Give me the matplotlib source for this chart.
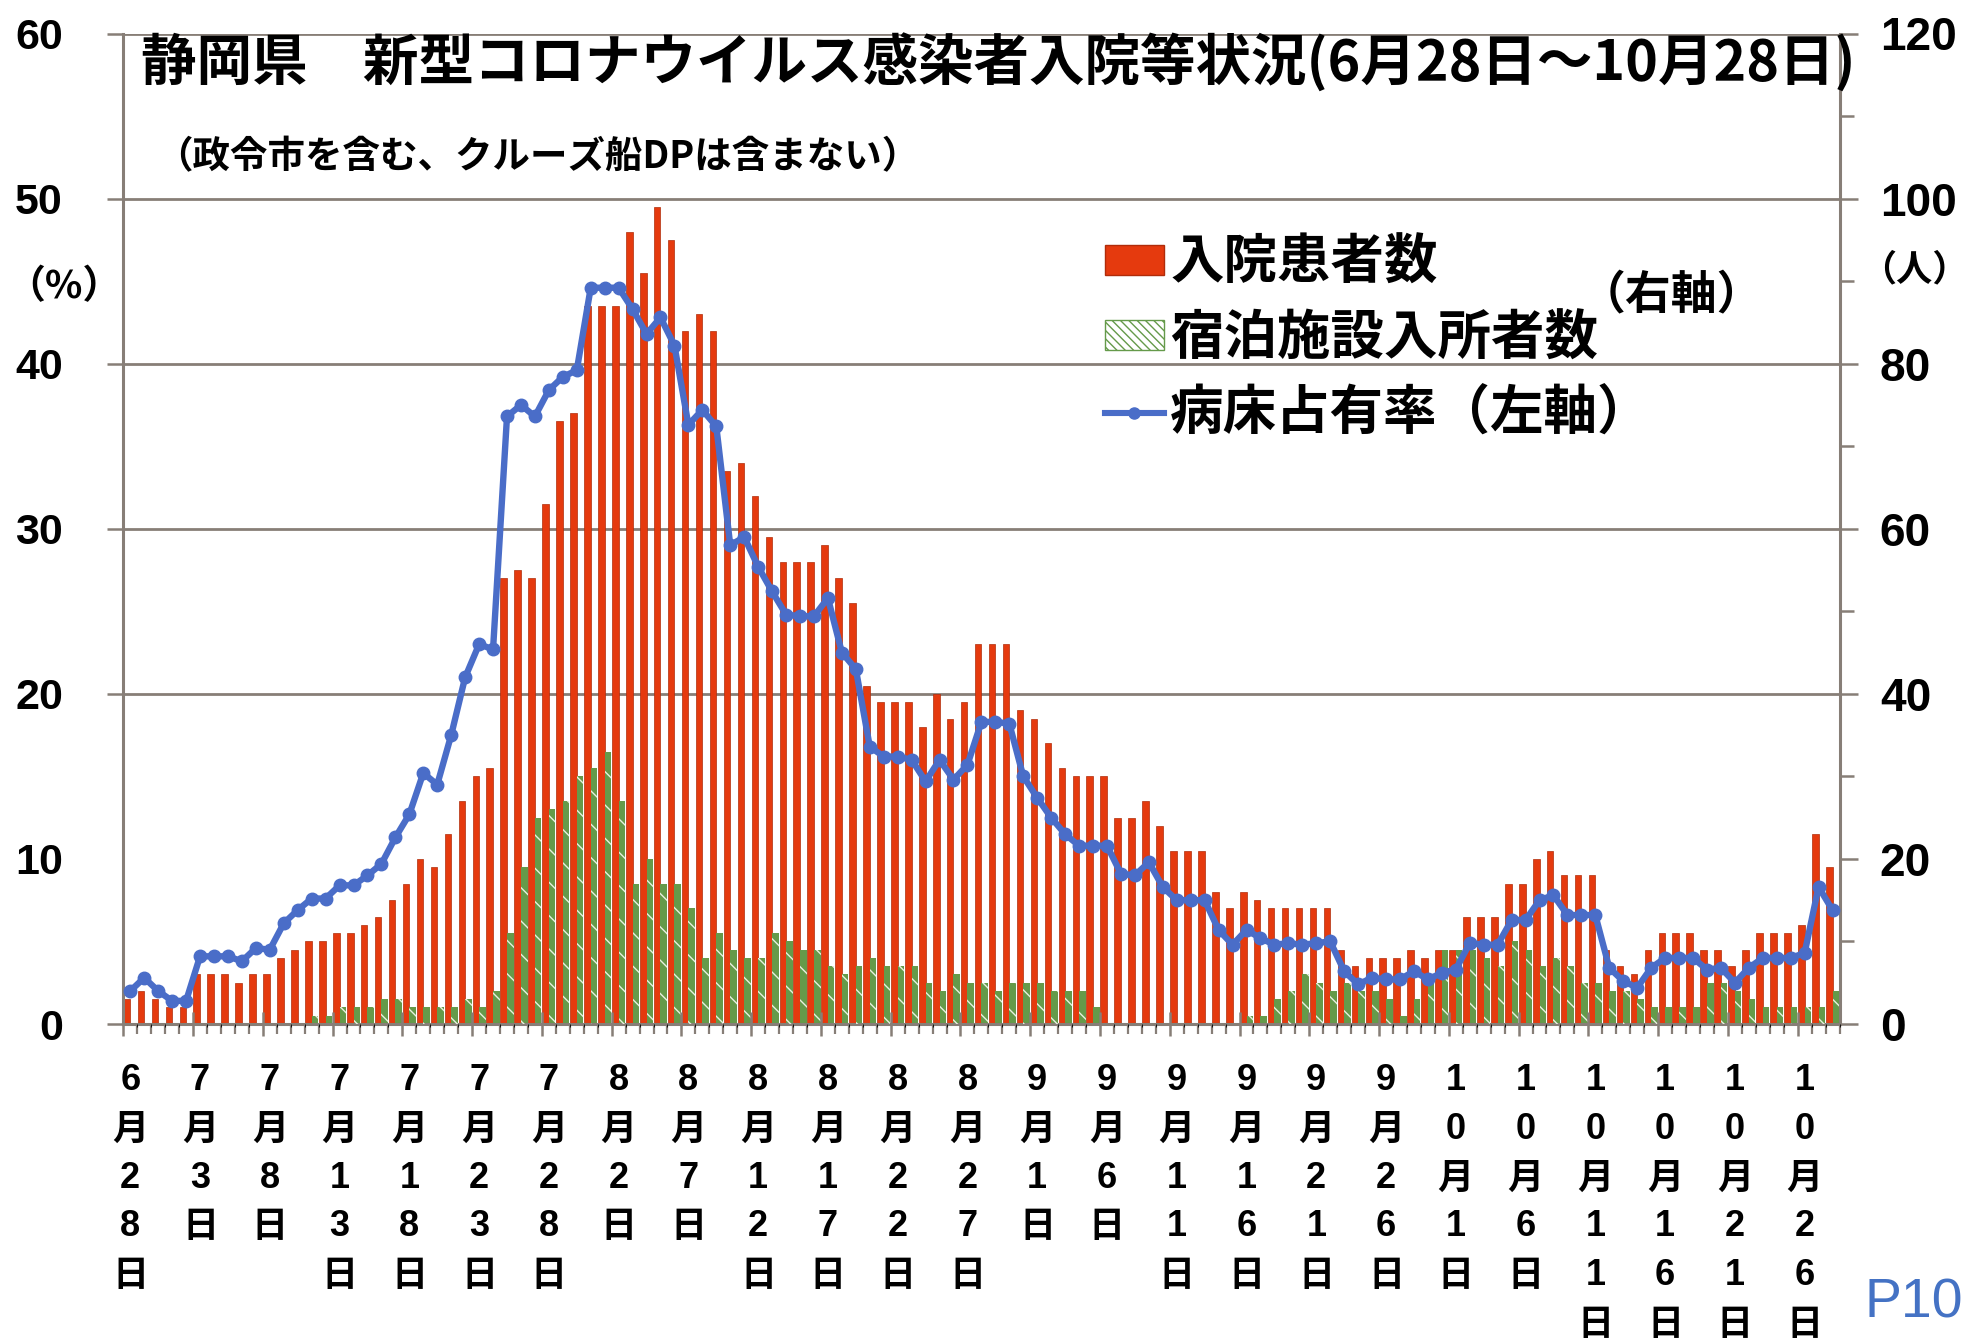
import numpy as np
import matplotlib
matplotlib.use("Agg")
import matplotlib.pyplot as plt
from matplotlib import font_manager
from matplotlib.patches import Patch
from matplotlib.lines import Line2D

# ---------------- data (daily, 6/28 .. 10/28) ----------------
hospitalized = [3, 4, 3, 2, 2, 6, 6, 6, 5, 6,
                6, 8, 9, 10, 10, 11, 11, 12, 13, 15,
                17, 20, 19, 23, 27, 30, 31, 54, 55, 54,
                63, 73, 74, 87, 87, 87, 96, 91, 99, 95,
                84, 86, 84, 67, 68, 64, 59, 56, 56, 56,
                58, 54, 51, 41, 39, 39, 39, 36, 40, 37,
                39, 46, 46, 46, 38, 37, 34, 31, 30, 30,
                30, 25, 25, 27, 24, 21, 21, 21, 16, 14,
                16, 15, 14, 14, 14, 14, 14, 9, 7, 8,
                8, 8, 9, 8, 9, 9, 13, 13, 13, 17,
                17, 20, 21, 18, 18, 18, 9, 7, 6, 9,
                11, 11, 11, 9, 9, 7, 9, 11, 11, 11,
                12, 23, 19]

hotel = [0, 0, 0, 0, 0, 0, 0, 0, 0, 0,
         0, 0, 0, 1, 1, 2, 2, 2, 3, 3,
         2, 2, 2, 2, 3, 2, 4, 11, 19, 25,
         26, 27, 30, 31, 33, 27, 17, 20, 17, 17,
         14, 8, 11, 9, 8, 8, 11, 10, 9, 9,
         7, 6, 7, 8, 7, 7, 7, 5, 4, 6,
         5, 5, 4, 5, 5, 5, 4, 4, 4, 2,
         0, 0, 0, 0, 0, 0, 0, 0, 0, 0,
         1, 1, 3, 4, 6, 5, 4, 5, 4, 4,
         3, 1, 3, 5, 9, 9, 9, 8, 7, 10,
         9, 7, 8, 7, 5, 5, 4, 4, 3, 2,
         2, 2, 2, 5, 5, 4, 3, 2, 2, 2,
         2, 2, 4]

occupancy = [2.0, 2.8, 2.0, 1.4, 1.4, 4.1, 4.1, 4.1, 3.8, 4.6,
             4.5, 6.1, 6.9, 7.6, 7.6, 8.4, 8.4, 9.0, 9.7, 11.3,
             12.7, 15.2, 14.5, 17.5, 21.0, 23.0, 22.7, 36.8, 37.5, 36.8,
             38.4, 39.2, 39.6, 44.6, 44.6, 44.6, 43.3, 41.8, 42.8, 41.1,
             36.3, 37.2, 36.2, 29.0, 29.5, 27.7, 26.2, 24.8, 24.7, 24.7,
             25.8, 22.5, 21.5, 16.8, 16.2, 16.2, 16.0, 14.7, 16.0, 14.8,
             15.7, 18.3, 18.3, 18.2, 15.0, 13.7, 12.5, 11.5, 10.8, 10.8,
             10.8, 9.1, 9.0, 9.8, 8.3, 7.5, 7.5, 7.5, 5.7, 4.8,
             5.7, 5.2, 4.8, 4.9, 4.8, 4.9, 5.0, 3.2, 2.4, 2.8,
             2.7, 2.7, 3.2, 2.7, 3.1, 3.3, 4.9, 4.8, 4.8, 6.3,
             6.3, 7.5, 7.8, 6.6, 6.6, 6.6, 3.4, 2.6, 2.2, 3.4,
             4.0, 4.0, 4.0, 3.3, 3.4, 2.5, 3.4, 4.0, 4.0, 4.0,
             4.3, 8.3, 6.9]

date_labels = ["6月28日", "7月3日", "7月8日", "7月13日", "7月18日", "7月23日",
               "7月28日", "8月2日", "8月7日", "8月12日", "8月17日", "8月22日",
               "8月27日", "9月1日", "9月6日", "9月11日", "9月16日", "9月21日",
               "9月26日", "10月1日", "10月6日", "10月11日", "10月16日",
               "10月21日", "10月26日"]
label_step = 5

series_names = ["入院患者数", "宿泊施設入所者数", "病床占有率（左軸）"]
title = "静岡県　新型コロナウイルス感染者入院等状況(6月28日～10月28日)"
subtitle = "（政令市を含む、クルーズ船DPは含まない）"

# ---------------- style ----------------
JP = "Noto Sans CJK JP"
names = {f.name for f in font_manager.fontManager.ttflist}
NARROW = "Liberation Sans Narrow" if "Liberation Sans Narrow" in names else "Liberation Sans"
plt.rcParams["font.family"] = [JP, "DejaVu Sans"]
plt.rcParams["hatch.linewidth"] = 1.0

RED = "#E53A0E"
RED_EDGE = "#B02C0A"
GREEN = "#659A4A"
BLUE = "#4A6DC8"
GRID = "#877E77"

W_PX, H_PX = 1971, 1340
fig = plt.figure(figsize=(W_PX / 100, H_PX / 100), dpi=100)
fig.patch.set_facecolor("white")

ax_l, ax_r, ax_b, ax_t = 123.3, 1839.5, 1024.0, 33.5
axb = fig.add_axes([ax_l / W_PX, 1 - ax_b / H_PX, (ax_r - ax_l) / W_PX, (ax_b - ax_t) / H_PX])
axl = axb.twinx()

n = len(hospitalized)
x = np.arange(n)
bw = 0.47

# bars on the right-hand axis (persons)
axb.bar(x - bw / 2, hospitalized, width=bw, color=RED, edgecolor=RED_EDGE,
        linewidth=0.5, zorder=2)
axb.bar(x + bw / 2, hotel, width=bw, color=GREEN, linewidth=0, zorder=2)
axb.bar(x + bw / 2, hotel, width=bw, facecolor="none", edgecolor="#E8F0E0",
        hatch="\\", linewidth=0, zorder=3)

# occupancy line on the left-hand axis (%)
axl.plot(x, occupancy, color=BLUE, linewidth=4.6, marker="o", markersize=9,
         markeredgecolor=BLUE, zorder=5)

axb.set_xlim(-0.5, n - 0.5)
axb.set_ylim(0, 120)
axl.set_ylim(0, 60)

# right axis ticks
axb.yaxis.tick_right()
axb.set_yticks(np.arange(0, 121, 20))
axb.set_yticks(np.arange(10, 120, 20), minor=True)
axb.tick_params(axis="y", which="major", direction="out", length=13, width=1.8,
                color=GRID, pad=16, labelsize=33)
axb.tick_params(axis="y", which="minor", direction="out", length=10, width=1.8,
                color=GRID)
for lab in axb.get_yticklabels():
    lab.set_fontweight("bold")
    lab.set_family(["Liberation Sans", JP])

# gridlines (none at 10%)
axb.set_axisbelow(True)
axb.grid(axis="y", which="major", color=GRID, linewidth=2.0)
gl = axb.get_ygridlines()
gl[0].set_visible(False)
gl[1].set_visible(False)

# left axis ticks
axl.yaxis.tick_left()
axl.set_yticks(np.arange(0, 61, 10))
axl.tick_params(axis="y", which="major", direction="out", length=11.5, width=1.8,
                color=GRID, pad=32, labelsize=31)
for lab in axl.get_yticklabels():
    lab.set_fontweight("bold")
    lab.set_family(["Liberation Sans", JP])
axl.yaxis.get_major_ticks()[1].tick1line.set_visible(False)

# spines
for sp in ["left", "right", "bottom"]:
    axb.spines[sp].set_color(GRID)
    axb.spines[sp].set_linewidth(2.2)
axb.spines["top"].set_visible(False)
for sp in axl.spines.values():
    sp.set_visible(False)

# x axis: small ticks at every category boundary, long crossing ticks every 5
axb.set_xticks(np.arange(-0.5, n, 1), minor=True)
axb.set_xticks([])
axb.tick_params(axis="x", which="minor", direction="out", length=7, width=1.6,
                color=GRID)
axl.xaxis.set_visible(True)
axl.set_xticks(np.arange(-0.5, n, label_step))
axl.set_xticklabels([])
axl.tick_params(axis="x", which="major", direction="inout", length=17, width=1.8,
                color=GRID, labelbottom=False, bottom=True, top=False)

# vertical date labels (one character per row)
label_pos = np.arange(len(date_labels)) * label_step
trans = axb.get_xaxis_transform()
ax_h = ax_b - ax_t
row0, row_step = 1081.0, 48.6
for pos, lab in zip(label_pos, date_labels):
    for i, ch in enumerate(lab):
        yy = (ax_b - (row0 + row_step * i)) / ax_h
        fam = [NARROW, JP] if ch.isdigit() else [JP]
        axb.text(pos, yy, ch, transform=trans, ha="center", va="center",
                 fontsize=26, fontweight="bold", family=fam, clip_on=False)

# titles
fig.text(141 / W_PX, 1 - 63 / H_PX, title, fontsize=40, fontweight="bold",
         ha="left", va="center")
fig.text(155 / W_PX, 1 - 157 / H_PX, subtitle, fontsize=27, fontweight="bold",
         ha="left", va="center")

# axis unit labels
fig.text(64 / W_PX, 1 - 287 / H_PX, "（%）", fontsize=28, fontweight="bold",
         ha="center", va="center")
fig.text(1914 / W_PX, 1 - 270 / H_PX, "（人）", fontsize=26, fontweight="bold",
         ha="center", va="center")

# legend
handles = [Patch(facecolor=RED, edgecolor=RED_EDGE),
           Patch(facecolor="white", edgecolor=GREEN, hatch="\\\\\\\\"),
           Line2D([], [], color=BLUE, linewidth=4.4, marker="o", markersize=8)]
leg = axl.legend(handles, series_names, loc="upper left",
                 bbox_to_anchor=(1105 / W_PX, 1 - 236 / H_PX),
                 bbox_transform=fig.transFigure, frameon=False, fontsize=38.5,
                 handlelength=1.1, handleheight=0.48, handletextpad=0.12,
                 labelspacing=0.38, borderpad=0, borderaxespad=0)
for t in leg.get_texts():
    t.set_fontweight("bold")
fig.text(1580 / W_PX, 1 - 295 / H_PX, "（右軸）", fontsize=33, fontweight="bold",
         ha="left", va="center")

# page number
fig.text(1963 / W_PX, 1 - 1304 / H_PX, "P10", fontsize=40, color="#4472C4",
         ha="right", va="center", family=["Liberation Sans", JP])

fig.savefig("out.png", dpi=100, facecolor="white")
